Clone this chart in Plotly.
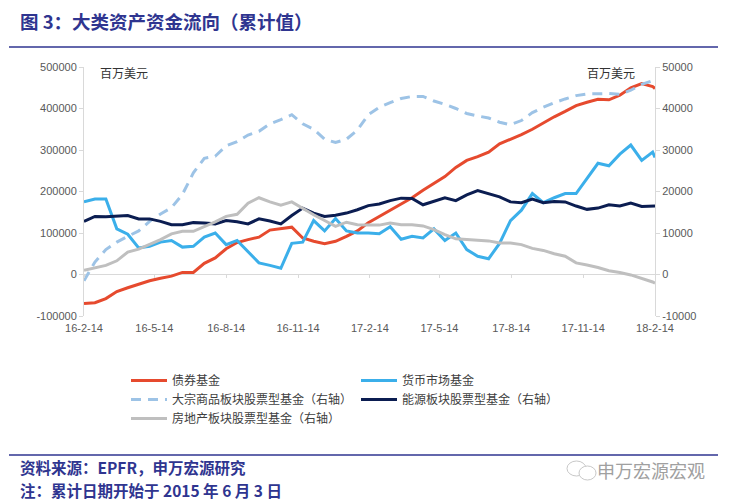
import pandas as pd
import plotly.graph_objects as go

# ---------------- data ----------------
dates = list(pd.date_range("2016-02-14", periods=53, freq="14D").strftime("%Y-%m-%d")) + ["2018-02-14"]

bond = [-70, -68, -58, -41, -32, -24, -15, -9, -4, 5, 5, 27, 40, 62, 77, 84, 90, 107, 111, 114,
        88, 80, 74, 80, 92, 105, 125, 140, 155, 168, 185, 203, 220, 236, 258, 275, 284, 295, 315, 326,
        337, 350, 366, 380, 393, 407, 415, 422, 421, 432, 450, 460, 453, 448]
money = [175, 182, 182, 110, 97, 64, 68, 78, 82, 66, 68, 90, 100, 72, 82, 55, 28, 22, 15, 75,
         78, 130, 105, 135, 105, 100, 100, 98, 115, 85, 92, 88, 110, 82, 100, 60, 44, 38, 75, 130,
         155, 195, 173, 185, 195, 195, 230, 268, 262, 290, 312, 275, 295, 282]
commodity = [-1.5, 3.0, 6.0, 7.8, 9.2, 10.5, 12.8, 14.6, 16.1, 19.3, 24.5, 28.0, 28.5, 31.0, 32.0, 33.6, 34.5, 36.3, 37.3, 38.5,
             36.3, 35.0, 32.6, 31.8, 32.6, 34.8, 38.5, 40.3, 41.4, 42.4, 42.9, 42.9, 41.8, 41.0, 40.0, 38.8, 38.2, 37.7, 36.7, 36.1,
             37.1, 39.0, 40.3, 41.4, 42.3, 43.1, 43.5, 43.6, 43.6, 43.4, 44.4, 45.8, 46.6, 46.9]
energy = [12.8, 14.0, 13.9, 14.1, 14.2, 13.4, 13.4, 12.8, 12.0, 12.0, 12.5, 12.4, 12.2, 13.0, 12.7, 12.2, 13.4, 12.9, 12.2, 14.2,
          16.0, 14.8, 14.0, 14.3, 14.8, 15.6, 16.6, 17.0, 17.8, 18.4, 18.3, 16.8, 17.6, 18.5, 17.8, 19.2, 20.2, 19.4, 18.7, 17.5,
          17.3, 18.2, 17.3, 17.6, 17.5, 16.5, 15.7, 16.0, 16.8, 16.5, 17.2, 16.4, 16.5, 16.5]
realestate = [1.0, 1.6, 2.2, 3.3, 5.4, 6.1, 7.2, 8.4, 9.8, 10.4, 10.4, 11.5, 12.7, 14.0, 14.5, 17.2, 18.5, 17.5, 16.7, 17.5,
              15.9, 14.4, 13.0, 11.6, 12.6, 12.0, 11.9, 11.9, 12.4, 12.0, 12.0, 11.7, 10.8, 9.6, 8.6, 8.4, 8.3, 8.1, 7.6, 7.6,
              7.2, 6.3, 5.8, 5.0, 4.4, 2.8, 2.3, 1.7, 0.9, 0.5, -0.1, -0.9, -1.8, -2.1]

# values above are in thousands of USD mn
bond_v = [v * 1000 for v in bond]
money_v = [v * 1000 for v in money]
commodity_v = [v * 1000 for v in commodity]
energy_v = [v * 1000 for v in energy]
realestate_v = [v * 1000 for v in realestate]

names = ["债券基金", "货币市场基金", "大宗商品板块股票型基金（右轴）", "能源板块股票型基金（右轴）", "房地产板块股票型基金（右轴）"]

xtick_vals = ["2016-02-14", "2016-05-14", "2016-08-14", "2016-11-14", "2017-02-14",
              "2017-05-14", "2017-08-14", "2017-11-14", "2018-02-14"]
xtick_text = ["16-2-14", "16-5-14", "16-8-14", "16-11-14", "17-2-14",
              "17-5-14", "17-8-14", "17-11-14", "18-2-14"]
left_ticks = [-100000, 0, 100000, 200000, 300000, 400000, 500000]
right_ticks = [-10000, 0, 10000, 20000, 30000, 40000, 50000]

# ---------------- layout geometry (screen pixels; page body has an 8px margin) ----------------
OFF = 8
SW, SH = 733, 504
W, H = SW - OFF, SH - OFF
L, R, T, B = 84, 655, 67, 316
def px(x):
    return (x - L) / (R - L)
def py(y):
    return (B - y) / (B - T)

CJK = "Noto Sans CJK SC"
NAVY_T = "#2F3590"
AXC = "#D9D9D9"
TXT = "#595959"

fig = go.Figure()
fig.add_trace(go.Scatter(x=dates, y=bond_v, name=names[0], mode="lines",
                         line=dict(color="#E64A2E", width=3)))
fig.add_trace(go.Scatter(x=dates, y=money_v, name=names[1], mode="lines",
                         line=dict(color="#3BAFEA", width=3)))
fig.add_trace(go.Scatter(x=dates, y=commodity_v, name=names[2], mode="lines", yaxis="y2",
                         line=dict(color="#9DC3E6", width=3, dash="10px,7px")))
fig.add_trace(go.Scatter(x=dates, y=energy_v, name=names[3], mode="lines", yaxis="y2",
                         line=dict(color="#0B1D51", width=3)))
fig.add_trace(go.Scatter(x=dates, y=realestate_v, name=names[4], mode="lines", yaxis="y2",
                         line=dict(color="#BFBFBF", width=3)))
# invisible trace for tick marks on the zero line
fig.add_trace(go.Scatter(x=dates, y=[None] * len(dates), xaxis="x2", showlegend=False,
                         hoverinfo="skip"))

fig.update_layout(
    width=W, height=H,
    margin=dict(l=L - OFF, r=SW - R, t=T - OFF, b=SH - B, pad=0),
    paper_bgcolor="white", plot_bgcolor="white",
    font=dict(family="Liberation Sans, Arial", size=11, color=TXT),
    showlegend=True,
    xaxis=dict(type="date", range=["2016-02-14", "2018-02-14"], tickmode="array",
               tickvals=xtick_vals, ticktext=xtick_text, showgrid=False, showline=False,
               zeroline=False, ticks="", ticklabelstandoff=4, tickfont=dict(size=11, color=TXT)),
    xaxis2=dict(type="date", range=["2016-02-14", "2018-02-14"], overlaying="x", anchor="free",
                position=py(273), tickmode="array", tickvals=xtick_vals, ticks="outside",
                ticklen=4, tickcolor=AXC, showticklabels=False, showgrid=False, showline=False,
                zeroline=False),
    yaxis=dict(range=[-100000, 500000], tickvals=left_ticks, ticktext=[str(v) for v in left_ticks],
               showgrid=False, zeroline=True, zerolinecolor=AXC, zerolinewidth=1,
               showline=True, linecolor=AXC, linewidth=1, ticks="outside", ticklen=4,
               tickcolor=AXC, tickfont=dict(size=11, color=TXT)),
    yaxis2=dict(range=[-10000, 50000], tickvals=right_ticks, ticktext=[str(v) for v in right_ticks],
                overlaying="y", side="right", showgrid=False, zeroline=False,
                showline=True, linecolor=AXC, linewidth=1, ticks="outside", ticklen=4,
                tickcolor=AXC, tickfont=dict(size=11, color=TXT)),
    legend=dict(orientation="h", x=px(126), xanchor="left", y=py(366), yanchor="top",
                entrywidth=179, entrywidthmode="pixels", traceorder="normal",
                font=dict(family=CJK, size=12, color="#404040"), bgcolor="rgba(0,0,0,0)",
                itemwidth=36),
)

annotations = [
    dict(text="<b>图 3：大类资产资金流向（累计值）</b>", x=px(19), y=py(21), xanchor="left", yanchor="middle",
         font=dict(family=CJK, size=18.5, color=NAVY_T)),
    dict(text="百万美元", x=px(99), y=py(72), xanchor="left", yanchor="middle",
         font=dict(family=CJK, size=12, color="#333333")),
    dict(text="百万美元", x=px(586), y=py(72), xanchor="left", yanchor="middle",
         font=dict(family=CJK, size=12, color="#333333")),
    dict(text="<b>资料来源：EPFR，申万宏源研究</b>", x=px(19), y=py(467), xanchor="left", yanchor="middle",
         font=dict(family=CJK, size=15.5, color=NAVY_T)),
    dict(text="<b>注：累计日期开始于 2015 年 6 月 3 日</b>", x=px(19), y=py(490), xanchor="left", yanchor="middle",
         font=dict(family=CJK, size=15.5, color=NAVY_T)),
    dict(text="申万宏源宏观", x=px(596), y=py(470), xanchor="left", yanchor="middle",
         font=dict(family=CJK, size=18, color="#A0A0A0")),
]
for a in annotations:
    a.update(xref="paper", yref="paper", showarrow=False, borderpad=0)
fig.update_layout(annotations=annotations)

fig.update_layout(shapes=[
    dict(type="line", xref="paper", yref="paper", x0=px(9), x1=px(718), y0=py(47), y1=py(47),
         line=dict(color=NAVY_T, width=1.5)),
    dict(type="line", xref="paper", yref="paper", x0=px(9), x1=px(718), y0=py(455), y1=py(455),
         line=dict(color=NAVY_T, width=1.5)),
    # simple outline of the chat-bubble logo next to the watermark
    dict(type="circle", xref="paper", yref="paper", x0=px(567), x1=px(586), y0=py(476), y1=py(461),
         line=dict(color="#C8C8C8", width=1)),
    dict(type="circle", xref="paper", yref="paper", x0=px(579), x1=px(596), y0=py(480), y1=py(466),
         fillcolor="white", line=dict(color="#C8C8C8", width=1)),
])

fig.write_html("out.html")
